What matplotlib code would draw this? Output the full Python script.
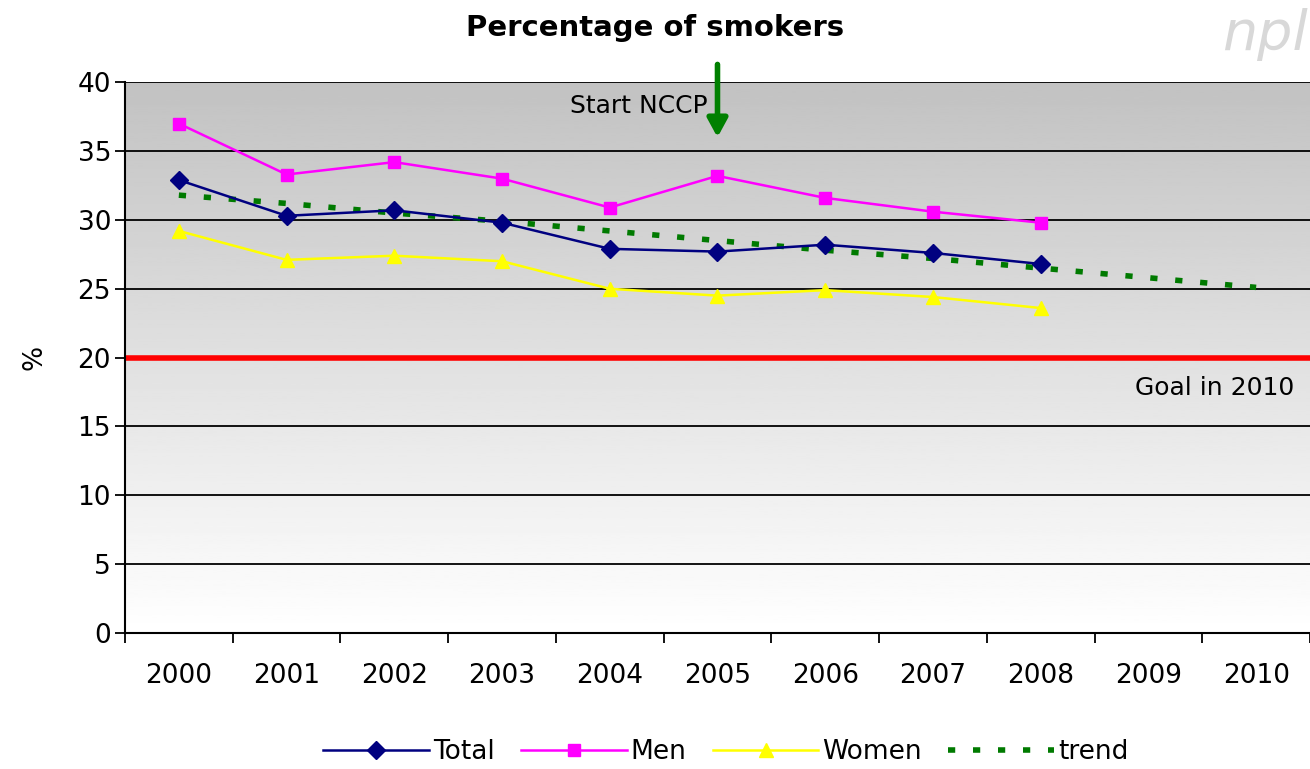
import matplotlib.pyplot as plt
import numpy as np

plt.rcParams['font.family'] = ['DejaVu Sans']

years = ['2000', '2001', '2002', '2003', '2004', '2005', '2006', '2007', '2008', '2009', '2010']
total = [32.9, 30.3, 30.7, 29.8, 27.9, 27.7, 28.2, 27.6, 26.8]
men = [37.0, 33.3, 34.2, 33.0, 30.9, 33.2, 31.6, 30.6, 29.8]
women = [29.2, 27.1, 27.4, 27.0, 25.0, 24.5, 24.9, 24.4, 23.6]
trend = [31.8, 31.2, 30.5, 29.9, 29.2, 28.5, 27.8, 27.2, 26.5, 25.8, 25.1]
goal = 20

fig = plt.figure(figsize=(13.1, 7.69), dpi=100)
ax = fig.add_axes([0.0954, 0.177, 0.9046, 0.716])

x = np.arange(len(years))
ax.set_xlim(-0.5, len(years) - 0.5)
ax.set_ylim(0, 40)

# grey gradient background, dark at top
grad = np.linspace(0.76, 1.0, 256).reshape(-1, 1)
ax.imshow(grad, extent=[0, 1, 0, 1], transform=ax.transAxes, cmap='gray',
          vmin=0, vmax=1, aspect='auto', zorder=0)

for v in range(5, 41, 5):
    ax.axhline(v, color='black', lw=1.3, zorder=1)
ax.axhline(goal, color='red', lw=4, zorder=2)

ax.plot(x[:len(trend)], trend, color='#007a00', lw=4, ls=(0, (1.3, 3.2)), zorder=3, label='trend')
ax.plot(x[:len(total)], total, color='#000080', lw=1.8, marker='D', markersize=9, zorder=4, label='Total')
ax.plot(x[:len(men)], men, color='#ff00ff', lw=1.8, marker='s', markersize=9, zorder=4, label='Men')
ax.plot(x[:len(women)], women, color='#ffff00', lw=1.8, marker='^', markersize=10, zorder=4, label='Women')

ax.set_xticks(x)
ax.set_xticklabels(years, fontsize=19)
ax.set_xticks(np.arange(-0.5, len(years), 1), minor=True)
ax.tick_params(axis='x', which='major', length=0, pad=22)
ax.tick_params(axis='x', which='minor', length=7, width=1.3, direction='out')
ax.set_yticks(range(0, 41, 5))
ax.tick_params(axis='y', labelsize=19, length=7, width=1.3, pad=3)
ax.set_ylabel('%', fontsize=19, labelpad=22)

for s in ['top', 'right']:
    ax.spines[s].set_visible(False)
ax.spines['left'].set_linewidth(1.5)
ax.spines['bottom'].set_linewidth(1.5)

ax.text(10.35, 17.8, 'Goal in 2010', fontsize=18, ha='right', va='center', zorder=5)
ax.text(4.91, 38.3, 'Start NCCP', fontsize=18, ha='right', va='center', zorder=5)
ax.annotate('', xy=(5, 35.8), xytext=(5, 41.5),
            arrowprops=dict(arrowstyle='-|>,head_width=0.6,head_length=1.1', color='#008000', lw=4),
            annotation_clip=False, zorder=6)

fig.text(0.5, 0.963, 'Percentage of smokers', fontsize=21, fontweight='bold', ha='center', va='center')
fig.text(0.998, 0.955, 'npl', fontsize=40, style='italic', color='#d8d8d8', ha='right', va='center')

handles, labels = ax.get_legend_handles_labels()
order = [1, 2, 3, 0]
ax.legend([handles[i] for i in order], [labels[i] for i in order], loc='center',
          bbox_to_anchor=(0.507, -0.216), ncol=4, frameon=False, fontsize=19,
          handlelength=4.0, handletextpad=0.15, columnspacing=1.0)

fig.savefig('out.png', dpi=100)
